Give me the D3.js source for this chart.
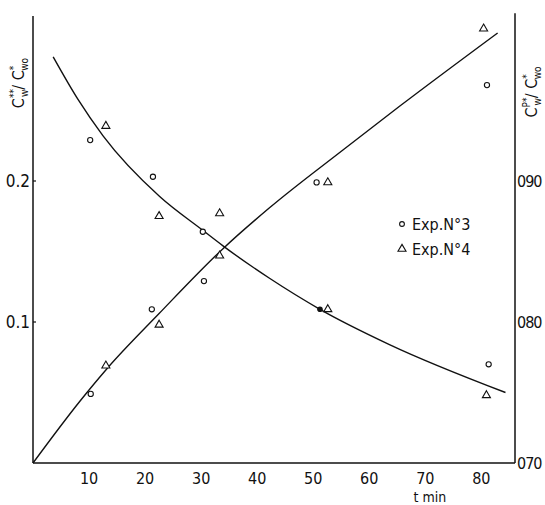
<!DOCTYPE html>
<html><head><meta charset="utf-8">
<script src="https://cdn.jsdelivr.net/npm/d3@7"></script>
<style>
body{margin:0;background:#fff;}
text{font-family:"Liberation Sans Narrow","DejaVu Sans Condensed","Liberation Sans",sans-serif;fill:#111;}
</style></head>
<body>
<script>
// ---- data ----
const xTicks = [10,20,30,40,50,60,70,80];
const leftTicks = [0.1,0.2];
const leftTickLabels = ["0.1","0.2"];
const rightTicks = [0.70,0.80,0.90];
const rightTickLabels = ["070","080","090"];
// Exp. N°3 (circles)
const exp3T = [10.2,10.3,21.4,21.2,30.3,30.5,50.6,81.0,81.3];
const exp3V = [0.229,0.049,0.203,0.109,0.164,0.129,0.199,0.268,0.070];
// filled point of Exp. N°3 on the curve
const exp3FilledT = [51.2];
const exp3FilledV = [0.109];
// Exp. N°4 (triangles)
const exp4T = [13.0,13.0,22.5,22.5,33.3,33.3,52.6,52.6,80.4,80.9];
const exp4V = [0.239,0.069,0.175,0.098,0.177,0.147,0.199,0.109,0.308,0.048];
// fitted curves
const upT = [0,8.4,13,22.5,33.9,42.2,55.3,65.4,82.9];
const upV = [0,0.044,0.066,0.106,0.152,0.181,0.222,0.253,0.305];
const downT = [3.6,8,12.5,22.6,30.3,33.9,42.2,51.2,63.6,84.3];
const downV = [0.288,0.258,0.232,0.189,0.165,0.154,0.131,0.109,0.084,0.050];

const W=545,H=505;
const svg=d3.select("body").append("svg").attr("width",W).attr("height",H);
const x=d3.scaleLinear().domain([0,86]).range([33,515]);
const y=d3.scaleLinear().domain([0,0.3]).range([463,40]);
const yR=d3.scaleLinear().domain([0.70,1.00]).range([463,40]);

const g=svg.append("g");
// axes lines
g.append("line").attr("x1",x(0)).attr("x2",x(0)).attr("y1",y(0)).attr("y2",y(0.317)).attr("stroke","#111").attr("stroke-width",1.5);
g.append("line").attr("x1",x(86)).attr("x2",x(86)).attr("y1",y(0)).attr("y2",y(0.319)).attr("stroke","#111").attr("stroke-width",1.5);
g.append("line").attr("x1",x(0)).attr("x2",x(86)).attr("y1",y(0)).attr("y2",y(0)).attr("stroke","#111").attr("stroke-width",1.5);

// x tick labels
g.selectAll(".xt").data(xTicks).enter().append("text")
 .attr("x",d=>x(d)).attr("y",y(0)+21).attr("text-anchor","middle").attr("font-size",16).text(d=>d);
g.append("text").attr("x",x(70.8)).attr("y",502).attr("text-anchor","middle").attr("font-size",14).text("t  min");

// left ticks
leftTicks.forEach((v,i)=>{
  g.append("line").attr("x1",x(0)).attr("x2",x(0)+3).attr("y1",y(v)).attr("y2",y(v)).attr("stroke","#111").attr("stroke-width",1.2);
  g.append("text").attr("x",x(0)-3).attr("y",y(v)+6).attr("text-anchor","end").attr("font-size",17).text(leftTickLabels[i]);
});
// right ticks
rightTicks.forEach((v,i)=>{
  g.append("text").attr("x",x(86)+2).attr("y",yR(v)+6).attr("text-anchor","start").attr("font-size",16).attr("letter-spacing",-1).text(rightTickLabels[i]);
});

// axis titles (rotated)
function title(tx,ty,sup,sub){
  const t=svg.append("text").attr("transform",`translate(${tx},${ty}) rotate(-90)`).attr("font-size",16).attr("text-anchor","middle");
  t.append("tspan").text("C");
  t.append("tspan").attr("font-size",10).attr("dy",-7).text(sup);
  t.append("tspan").attr("font-size",10).attr("dx",-8).attr("dy",11).text("w");
  t.append("tspan").attr("dy",-4).text("/ C");
  t.append("tspan").attr("font-size",10).attr("dy",-7).text("*");
  t.append("tspan").attr("font-size",10).attr("dx",-5).attr("dy",11).text("wo");
}
title(24,83,"**","w");
title(537,92,"P*","w");

// curves
const line=d3.line().x(d=>x(d[0])).y(d=>y(d[1])).curve(d3.curveMonotoneX);
g.append("path").attr("d",line(upT.map((t,i)=>[t,upV[i]]))).attr("fill","none").attr("stroke","#111").attr("stroke-width",1.4);
g.append("path").attr("d",line(downT.map((t,i)=>[t,downV[i]]))).attr("fill","none").attr("stroke","#111").attr("stroke-width",1.4);

// points
g.selectAll(".c3").data(exp3T.map((t,i)=>[t,exp3V[i]])).enter().append("circle")
 .attr("cx",d=>x(d[0])).attr("cy",d=>y(d[1])).attr("r",2.6).attr("fill","#fff").attr("stroke","#111").attr("stroke-width",1.1);
g.selectAll(".c3f").data(exp3FilledT.map((t,i)=>[t,exp3FilledV[i]])).enter().append("circle")
 .attr("cx",d=>x(d[0])).attr("cy",d=>y(d[1])).attr("r",2.8).attr("fill","#111");
const tri=d3.symbol().type(d3.symbolTriangle).size(28);
g.selectAll(".t4").data(exp4T.map((t,i)=>[t,exp4V[i]])).enter().append("path")
 .attr("d",tri).attr("transform",d=>`translate(${x(d[0])},${y(d[1])})`).attr("fill","#fff").attr("stroke","#111").attr("stroke-width",1.1);

// legend
g.append("circle").attr("cx",402).attr("cy",224).attr("r",2.4).attr("fill","#fff").attr("stroke","#111").attr("stroke-width",1.1);
g.append("text").attr("x",412).attr("y",230).attr("font-size",16).text("Exp.N°3");
g.append("path").attr("d",tri).attr("transform","translate(402,249)").attr("fill","#fff").attr("stroke","#111").attr("stroke-width",1.1);
g.append("text").attr("x",412).attr("y",255).attr("font-size",16).text("Exp.N°4");
</script>
</body></html>
